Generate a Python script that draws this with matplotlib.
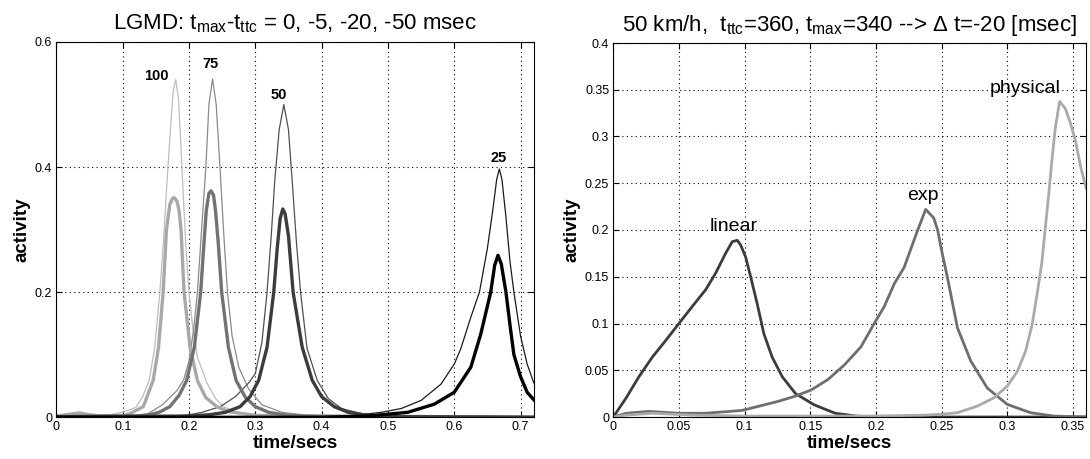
import matplotlib
matplotlib.use('Agg')
import matplotlib.pyplot as plt
import numpy as np

plt.rcParams['font.family'] = ['Liberation Sans', 'DejaVu Sans']
plt.rcParams['mathtext.fontset'] = 'custom'
plt.rcParams['mathtext.rm'] = 'Liberation Sans'
plt.rcParams['mathtext.it'] = 'Liberation Sans'

# ---- left panel: LGMD responses (thin = ttc, thick = LGMD) for 4 speeds
t100_thin = [0, 0.08, 0.10, 0.12, 0.13, 0.14, 0.148, 0.156, 0.162, 0.167, 0.172, 0.176, 0.18, 0.184, 0.188, 0.192, 0.196, 0.2, 0.206, 0.213, 0.227, 0.24, 0.252, 0.27, 0.30, 0.35, 0.72]
a100_thin = [0.003, 0.004, 0.008, 0.016, 0.033, 0.059, 0.11, 0.2, 0.29, 0.38, 0.46, 0.52, 0.54, 0.51, 0.43, 0.34, 0.26, 0.2, 0.14, 0.095, 0.055, 0.03, 0.017, 0.009, 0.004, 0.001, 0.0]
t100_thick = [0, 0.02, 0.035, 0.05, 0.07, 0.10, 0.111, 0.131, 0.146, 0.154, 0.161, 0.166, 0.171, 0.175, 0.178, 0.182, 0.185, 0.188, 0.1925, 0.2016, 0.2126, 0.225, 0.2418, 0.26, 0.30, 0.72]
a100_thick = [0.002, 0.005, 0.007, 0.004, 0.002, 0.002, 0.006, 0.017, 0.059, 0.112, 0.2, 0.3, 0.34, 0.35, 0.351, 0.345, 0.33, 0.3, 0.2, 0.112, 0.059, 0.032, 0.017, 0.009, 0.003, 0.0]

t75_thin = [0, 0.12, 0.1365, 0.16, 0.182, 0.192, 0.2, 0.207, 0.2127, 0.219, 0.2254, 0.23, 0.2355, 0.241, 0.2467, 0.252, 0.258, 0.265, 0.275, 0.29, 0.31, 0.34, 0.38, 0.72]
a75_thin = [0.002, 0.003, 0.005, 0.02, 0.043, 0.06, 0.09, 0.14, 0.2, 0.3, 0.4, 0.5, 0.541, 0.5, 0.4, 0.3, 0.2, 0.13, 0.08, 0.045, 0.02, 0.008, 0.003, 0.0]
t75_thick = [0, 0.12, 0.14, 0.155, 0.171, 0.185, 0.1965, 0.208, 0.2176, 0.222, 0.226, 0.23, 0.2332, 0.237, 0.24, 0.244, 0.2493, 0.2594, 0.271, 0.285, 0.30, 0.32, 0.35, 0.40, 0.72]
a75_thick = [0.001, 0.002, 0.004, 0.008, 0.017, 0.035, 0.059, 0.112, 0.2, 0.27, 0.33, 0.358, 0.362, 0.355, 0.33, 0.28, 0.2, 0.112, 0.059, 0.032, 0.017, 0.008, 0.003, 0.001, 0.0]

t50_thin = [0, 0.18, 0.2, 0.22, 0.247, 0.27, 0.29, 0.3, 0.31, 0.3177, 0.324, 0.3293, 0.336, 0.343, 0.35, 0.3556, 0.362, 0.3682, 0.378, 0.3934, 0.41, 0.43, 0.46, 0.5, 0.72]
a50_thin = [0.001, 0.002, 0.004, 0.008, 0.017, 0.033, 0.055, 0.07, 0.12, 0.2, 0.29, 0.378, 0.46, 0.5, 0.46, 0.378, 0.28, 0.2, 0.11, 0.059, 0.03, 0.014, 0.006, 0.002, 0.0]
t50_thick = [0, 0.2, 0.23, 0.255, 0.277, 0.292, 0.305, 0.3177, 0.3278, 0.333, 0.3375, 0.3414, 0.345, 0.35, 0.357, 0.3707, 0.3859, 0.40, 0.419, 0.44, 0.47, 0.52, 0.72]
a50_thick = [0.001, 0.002, 0.004, 0.008, 0.017, 0.033, 0.059, 0.112, 0.2, 0.27, 0.318, 0.333, 0.325, 0.29, 0.2, 0.112, 0.059, 0.033, 0.017, 0.008, 0.003, 0.001, 0.0]

t25_thin = [0, 0.4, 0.45, 0.49, 0.52, 0.55, 0.58, 0.6, 0.61, 0.625, 0.638, 0.65, 0.658, 0.664, 0.668, 0.672, 0.678, 0.684, 0.69, 0.70, 0.71, 0.72]
a25_thin = [0.0, 0.001, 0.003, 0.008, 0.014, 0.027, 0.053, 0.085, 0.11, 0.16, 0.2, 0.27, 0.33, 0.38, 0.397, 0.38, 0.32, 0.25, 0.2, 0.13, 0.085, 0.055]
t25_thick = [0, 0.4, 0.47, 0.53, 0.57, 0.6, 0.625, 0.64, 0.655, 0.661, 0.666, 0.671, 0.678, 0.685, 0.69, 0.70, 0.71, 0.72]
a25_thick = [0.0, 0.0, 0.002, 0.008, 0.021, 0.04, 0.08, 0.133, 0.2, 0.243, 0.259, 0.245, 0.2, 0.14, 0.1, 0.065, 0.04, 0.028]

speed_labels = ['100', '75', '50', '25']
label_t = [0.151, 0.232, 0.335, 0.667]
label_a = [0.545, 0.565, 0.515, 0.415]

# ---- right panel: 50 km/h, three approach models
t_lin = [0, 0.0094, 0.0195, 0.0297, 0.04, 0.05, 0.06, 0.0703, 0.078, 0.0855, 0.0906, 0.0944, 0.097, 0.1008, 0.1046, 0.1096, 0.1147, 0.121, 0.1287, 0.1388, 0.153, 0.169, 0.185, 0.2, 0.36]
a_lin = [0, 0.0196, 0.043, 0.064, 0.082, 0.1, 0.118, 0.136, 0.154, 0.175, 0.1875, 0.189, 0.184, 0.171, 0.15, 0.121, 0.089, 0.064, 0.043, 0.025, 0.013, 0.004, 0.001, 0.0, 0.0]

t_exp = [0, 0.01, 0.027, 0.05, 0.07, 0.098, 0.1255, 0.138, 0.1508, 0.1634, 0.176, 0.1886, 0.1987, 0.2063, 0.214, 0.2215, 0.229, 0.2316, 0.2379, 0.244, 0.247, 0.2505, 0.2545, 0.2621, 0.2722, 0.2848, 0.3, 0.3177, 0.3354, 0.36]
a_exp = [0, 0.004, 0.006, 0.004, 0.004, 0.007, 0.0167, 0.022, 0.029, 0.04, 0.0557, 0.075, 0.1, 0.118, 0.1425, 0.16, 0.189, 0.199, 0.222, 0.213, 0.2, 0.175, 0.149, 0.0954, 0.06, 0.031, 0.0135, 0.0046, 0.001, 0.0]

t_phys = [0, 0.01, 0.03, 0.06, 0.1, 0.2, 0.237, 0.25, 0.2621, 0.2773, 0.29, 0.3, 0.3078, 0.314, 0.319, 0.3227, 0.3265, 0.329, 0.3316, 0.334, 0.3366, 0.3399, 0.3442, 0.348, 0.352, 0.356, 0.36]
a_phys = [0, 0.002, 0.004, 0.002, 0.001, 0.001, 0.002, 0.003, 0.0046, 0.0117, 0.0206, 0.033, 0.049, 0.0705, 0.099, 0.131, 0.1665, 0.202, 0.238, 0.274, 0.309, 0.3374, 0.33, 0.315, 0.295, 0.267, 0.245]

model_labels = ['linear', 'exp', 'physical']
model_t = [0.092, 0.2355, 0.314]
model_a = [0.204, 0.2365, 0.351]

W, H = 1090.0, 459.0
fig = plt.figure(figsize=(10.9, 4.59), dpi=100)
ax1 = fig.add_axes([56.4 / W, (H - 417.3) / H, (533.8 - 56.4) / W, (417.3 - 42.0) / H])
ax2 = fig.add_axes([613.3 / W, (H - 417.0) / H, (1086.0 - 613.3) / W, (417.0 - 43.0) / H])

# left panel
thin = [(t100_thin, a100_thin, '#bdbdbd'), (t75_thin, a75_thin, '#8a8a8a'),
        (t50_thin, a50_thin, '#505050'), (t25_thin, a25_thin, '#1a1a1a')]
thick = [(t100_thick, a100_thick, '#a8a8a8'), (t75_thick, a75_thick, '#727272'),
         (t50_thick, a50_thick, '#3c3c3c'), (t25_thick, a25_thick, '#000000')]
for tt, aa, c in thin:
    ax1.plot(tt, aa, color=c, lw=0.9)
for tt, aa, c in thick:
    ax1.plot(tt, aa, color=c, lw=2.4)
for lab, x, y in zip(speed_labels, label_t, label_a):
    ax1.text(x, y, lab, ha='center', va='center', fontsize=10.5, fontweight='bold')
ax1.set_xlim(0, 0.72)
ax1.set_ylim(0, 0.6)
ax1.set_xticks(np.arange(0, 0.71, 0.1))
ax1.set_xticklabels(['0', '0.1', '0.2', '0.3', '0.4', '0.5', '0.6', '0.7'])
ax1.set_yticks([0, 0.2, 0.4, 0.6])
ax1.set_yticklabels(['0', '0.2', '0.4', '0.6'])
ax1.set_title(r'LGMD: t$_{\mathrm{max}}$-t$_{\mathrm{ttc}}$ = 0, -5, -20, -50 msec', fontsize=16, pad=9)

# right panel
ax2.plot(t_lin, a_lin, color='#3c3c3c', lw=2.0)
ax2.plot(t_exp, a_exp, color='#6e6e6e', lw=2.0)
ax2.plot(t_phys, a_phys, color='#aaaaaa', lw=2.0)
for lab, x, y in zip(model_labels, model_t, model_a):
    ax2.text(x, y, lab, ha='center', va='center', fontsize=14)
ax2.set_xlim(0, 0.36)
ax2.set_ylim(0, 0.4)
ax2.set_xticks(np.arange(0, 0.36, 0.05))
ax2.set_xticklabels(['0', '0.05', '0.1', '0.15', '0.2', '0.25', '0.3', '0.35'])
ax2.set_yticks(np.arange(0, 0.41, 0.05))
ax2.set_yticklabels(['0', '0.05', '0.1', '0.15', '0.2', '0.25', '0.3', '0.35', '0.4'])
ax2.set_title(r'50 km/h,  t$_{\mathrm{ttc}}$=360, t$_{\mathrm{max}}$=340 --> $\Delta$ t=-20 [msec]', fontsize=16, pad=9)

for ax in (ax1, ax2):
    ax.grid(True, color='black', linestyle=(0, (1, 3)), lw=0.8)
    ax.tick_params(direction='in', length=4, labelsize=9, top=True, right=True, pad=3)
    ax.set_xlabel('time/secs', fontsize=13.5, fontweight='bold', labelpad=1)
    ax.set_ylabel('activity', fontsize=13.5, fontweight='bold', labelpad=3)
    for s in ax.spines.values():
        s.set_linewidth(0.8)

fig.savefig('out.png', dpi=100)
